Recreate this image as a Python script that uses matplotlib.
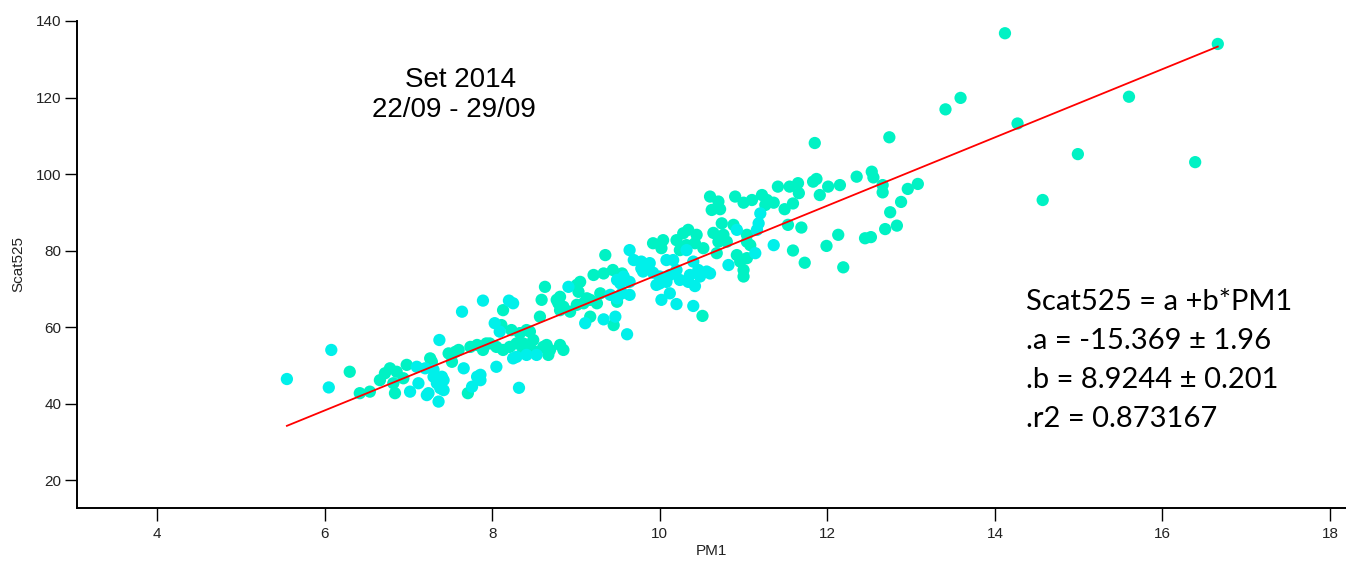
import matplotlib
matplotlib.use("Agg")
import matplotlib.pyplot as plt
import numpy as np

# ---- data ----
# points drawn in the greener turquoise tone
green_x = [6.30, 6.42, 6.54, 6.66, 6.72, 6.78, 6.86, 6.82, 6.84, 6.94, 6.98, 7.26, 7.48, 7.56, 7.52,
           7.28, 7.71, 7.82, 7.93, 7.60, 8.13, 8.23, 8.21, 8.37, 8.45, 8.53, 8.59, 8.63, 8.57, 8.65,
           8.67, 8.81, 8.85, 8.77, 8.81, 9.01, 9.09, 8.93, 9.35, 9.44, 9.33, 9.21, 9.55, 9.03, 8.81,
           8.79, 8.85, 9.01, 9.17, 9.25, 9.29, 9.45, 9.17, 8.11, 8.33, 8.41, 8.49, 7.97, 8.05, 8.13,
           8.29, 8.37, 8.45, 8.61, 8.69, 7.74, 7.89,
           10.60, 10.70, 10.62, 10.72, 10.90, 11.00, 11.10, 11.22, 11.28, 11.36, 11.26, 11.41, 11.55,
           11.65, 11.66, 11.59, 11.49, 11.83, 11.91, 12.01, 12.15, 10.74, 10.88, 10.76, 10.64, 10.70,
           10.80, 11.04, 11.08, 11.53, 11.69, 11.59, 11.73, 11.99, 12.13, 12.19, 9.92, 10.04, 10.02,
           10.20, 10.28, 10.34, 10.44, 10.32, 10.42, 10.52, 10.24, 10.68, 10.92, 10.96, 11.04, 11.00,
           11.00, 11.04, 10.51, 9.49, 9.05, 9.13,
           14.12, 16.66, 15.60, 13.59, 13.41, 14.27, 12.74, 14.99, 16.39, 14.57, 12.35, 12.53, 12.55,
           12.66, 12.66, 12.96, 13.08, 12.88, 12.75, 12.83, 12.69, 12.45, 12.52, 11.87, 11.85]
green_y = [48.3, 42.7, 43.1, 46.1, 47.9, 49.2, 48.3, 45.3, 42.7, 46.6, 50.1, 51.8, 53.1, 53.5, 50.9,
           50.9, 42.7, 55.3, 55.7, 54.0, 64.4, 59.2, 54.8, 55.7, 58.8, 53.5, 67.1, 70.5, 62.7, 55.3,
           52.7, 55.3, 54.0, 67.1, 64.4, 71.0, 66.2, 64.0, 78.8, 74.9, 74.0, 73.6, 74.0, 69.2, 67.9,
           66.2, 65.3, 65.8, 67.1, 66.2, 68.8, 60.5, 62.7, 60.5, 58.4, 59.2, 56.6, 55.7, 54.8, 54.0,
           55.7, 54.0, 54.8, 54.8, 54.0, 54.8, 54.0,
           94.1, 92.8, 90.6, 90.8, 94.1, 92.5, 93.2, 94.5, 93.2, 92.5, 91.9, 96.7, 96.7,
           97.6, 95.0, 92.3, 90.8, 98.0, 94.5, 96.7, 97.1, 87.1, 86.7, 84.1, 84.6, 82.3,
           82.3, 84.1, 81.4, 86.7, 86.0, 80.0, 76.8, 81.2, 84.1, 75.6, 81.9, 82.7, 80.6,
           82.7, 84.5, 85.4, 84.1, 81.4, 81.9, 80.6, 80.1, 79.3, 78.8, 77.1, 78.0, 74.9,
           73.2, 82.3, 62.9, 66.6, 71.8, 67.5,
           136.8, 134.0, 120.2, 119.9, 116.9, 113.2, 109.6, 105.2, 103.1, 93.2, 99.3, 100.6, 99.1,
           97.1, 95.2, 96.1, 97.4, 92.7, 90.0, 86.5, 85.6, 83.2, 83.5, 98.7, 108.1]

# points drawn in the bluer cyan tone
cyan_x = [5.55, 6.08, 6.05, 7.10, 7.12, 7.02, 7.20, 7.30, 7.24, 7.36, 7.38, 7.42, 7.34, 7.37, 7.22,
          7.42, 7.40, 7.30, 7.64, 7.89, 7.82, 7.86, 7.66, 7.76, 8.05, 8.32, 8.03, 8.09, 8.20, 8.25,
          8.29, 8.91, 9.11, 9.64, 9.69, 9.78, 9.80, 9.49, 9.53, 9.64, 9.41, 9.49, 9.64, 9.33, 9.47,
          9.61, 8.25, 8.41, 8.53, 7.86,
          10.92, 11.20, 11.18, 11.16, 11.36, 10.32, 10.16, 10.08, 9.88, 9.78, 10.82, 11.14, 10.40,
          10.46, 10.56, 10.36, 10.48, 10.60, 10.20, 10.24, 10.12, 10.00, 9.96, 10.12, 10.02, 10.20,
          10.40, 10.34, 10.42, 9.92, 9.57, 9.55, 10.00, 10.08]
cyan_y = [46.4, 54.0, 44.2, 49.6, 45.3, 43.1, 49.2, 48.8, 42.7, 40.5, 44.0, 46.1, 45.3, 56.6, 42.2,
          43.5, 47.0, 47.0, 64.0, 66.9, 47.0, 46.1, 49.2, 44.4, 49.6, 44.1, 61.0, 58.8, 66.9, 66.2,
          52.2, 70.5, 61.0, 80.1, 77.5, 77.1, 74.5, 72.3, 71.4, 71.8, 68.4, 67.5, 68.4, 62.0, 62.7,
          58.1, 51.8, 52.7, 52.7, 47.5,
          85.4, 89.7, 87.1, 85.4, 81.4, 80.1, 77.5, 77.5, 76.7, 75.3, 76.2, 79.3, 77.1,
          74.9, 74.5, 73.6, 73.2, 74.0, 74.9, 72.3, 73.6, 73.2, 71.0, 68.8, 67.1, 66.0,
          65.5, 71.8, 70.7, 74.2, 73.2, 68.8, 71.4, 71.8]

# fit parameters shown on the chart
fit_a = -15.369
fit_b = 8.9244

x_ticks = [4, 6, 8, 10, 12, 14, 16, 18]
y_ticks = [20, 40, 60, 80, 100, 120, 140]

title_lines = ["Set 2014", "22/09 - 29/09"]
fit_lines = ["Scat525 = a +b*PM1", ".a = -15.369 \u00b1 1.96",
             ".b = 8.9244 \u00b1 0.201", ".r2 = 0.873167"]

# ---- figure ----
W, H = 1346, 561
fig = plt.figure(figsize=(W / 100, H / 100), dpi=100)
ax = fig.add_axes([77 / W, 1 - 508 / H, (W - 77) / W, 487 / H])

ax.scatter(green_x, green_y, s=78, color="#00F2C4", edgecolors="none", zorder=2)
ax.scatter(cyan_x, cyan_y, s=78, color="#00F0EA", edgecolors="none", zorder=2)

all_x = np.array(green_x + cyan_x)
xs = np.array([all_x.min(), all_x.max()])
ax.plot(xs, fit_a + fit_b * xs, color="#FF0000", lw=1.3, zorder=3)

ax.set_xlim(3.045, 18.19)
ax.set_ylim(12.68, 140)
ax.set_xticks(x_ticks)
ax.set_yticks(y_ticks)

for s in ("top", "right"):
    ax.spines[s].set_visible(False)
for s in ("left", "bottom"):
    ax.spines[s].set_linewidth(1.4)
    ax.spines[s].set_color("black")

tick_font = "Liberation Sans"
ax.tick_params(axis="both", direction="out", length=9, width=1.0, colors="black",
               labelsize=11)
ax.tick_params(axis="x", pad=5)
ax.tick_params(axis="y", pad=2)
for lab in ax.get_xticklabels() + ax.get_yticklabels():
    lab.set_fontfamily(tick_font)
    lab.set_color("#222222")

ax.set_xlabel("PM1", fontsize=11, family=tick_font, color="#222222")
ax.set_ylabel("Scat525", fontsize=11, family=tick_font, color="#222222")
ax.xaxis.set_label_coords(0.5, -0.074)
ax.yaxis.set_label_coords(-0.041, 0.5)

# title block
fig.text(461 / W, 1 - 86.7 / H, title_lines[0], ha="center", va="baseline",
         fontsize=20, family=tick_font, color="black")
fig.text(453.5 / W, 1 - 116.7 / H, title_lines[1], ha="center", va="baseline",
         fontsize=20, family=tick_font, color="black")

# fit results
baselines = [310, 349, 388, 427]
for txt, yb in zip(fit_lines, baselines):
    fig.text(1026 / W, 1 - yb / H, txt, ha="left", va="baseline",
             fontsize=21, family="Lato", color="black")

fig.savefig("out.png", dpi=100, facecolor="white")
